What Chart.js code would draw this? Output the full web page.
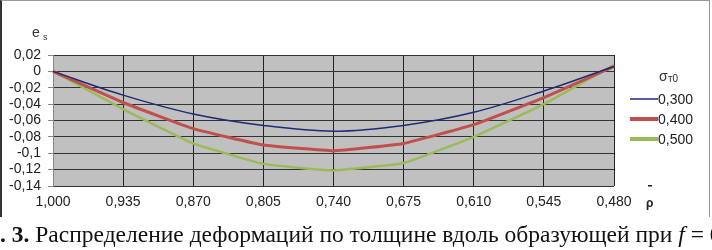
<!DOCTYPE html>
<html>
<head>
<meta charset="utf-8">
<script src="https://cdn.jsdelivr.net/npm/chart.js@4/dist/chart.umd.min.js"></script>
<style>
  body { margin: 0; background: #fff; }
  #wrap { position: relative; width: 712px; height: 250px; overflow: hidden; }
  #frame { position: absolute; left: 0; top: 0; width: 707px; height: 216px;
           border-left: 2px solid #333; border-top: 1px solid #999; border-right: 1px solid #999; }
  canvas { position: absolute; left: 0; top: 0; }
  #caption { position: absolute; left: 0; top: 221px; white-space: nowrap;
             font-family: "Liberation Serif", "DejaVu Serif", "Times New Roman", serif;
             font-size: 23.5px; color: #111; }
</style>
</head>
<body>
<div id="wrap">
  <div id="frame"></div>
  <canvas id="chart" width="712" height="250"></canvas>
  <div id="caption"><b>. 3.</b> Распределение деформаций по толщине вдоль образующей при <i>f</i> = 0</div>
</div>
<script>
const categories = ["1,000", "0,935", "0,870", "0,805", "0,740", "0,675", "0,610", "0,545", "0,480"]
const seriesNames = ["0,300", "0,400", "0,500"]
const s300 = [0, -0.029, -0.052, -0.066, -0.073, -0.066, -0.050, -0.024, 0.006]
const s400 = [0, -0.038, -0.070, -0.090, -0.097, -0.088, -0.065, -0.032, 0.006]
const s500 = [0, -0.046, -0.088, -0.113, -0.121, -0.112, -0.080, -0.040, 0.008]
const yTicks = [0.02, 0, -0.02, -0.04, -0.06, -0.08, -0.1, -0.12, -0.14]

const fmt = v => String(Math.round(v * 1000) / 1000).replace('.', ',')

// grey plot background, axis titles and the legend
const decor = {
  id: 'decor',
  beforeDraw(chart) {
    const { ctx, chartArea: a } = chart
    ctx.save()
    ctx.fillStyle = '#c0c0c0'
    ctx.fillRect(a.left, a.top, a.right - a.left, a.bottom - a.top)
    ctx.strokeStyle = '#888'
    ctx.lineWidth = 1
    ctx.beginPath()
    ctx.moveTo(a.left, a.top + 0.5); ctx.lineTo(a.right + 0.5, a.top + 0.5); ctx.lineTo(a.right + 0.5, a.bottom)
    ctx.stroke()
    ctx.restore()
  },
  afterDraw(chart) {
    const { ctx } = chart
    ctx.save()
    ctx.fillStyle = '#333'
    ctx.textBaseline = 'alphabetic'
    ctx.font = '14px "Liberation Sans"'
    ctx.fillText('e', 32, 37)
    ctx.font = '9px "Liberation Sans"'
    ctx.fillText('s', 43, 40)

    // x axis title: rho with a bar
    ctx.fillStyle = '#222'
    ctx.font = 'bold 12px "Liberation Sans"'
    ctx.fillText('ρ', 646, 207)
    ctx.fillRect(648, 185, 4, 1.5)

    // legend
    ctx.fillStyle = '#333'
    ctx.font = '14px "Liberation Sans"'
    ctx.fillText('σ', 659, 81)
    ctx.font = '10px "Liberation Sans"'
    ctx.fillText('т0', 668, 82)
    ctx.font = '14px "Liberation Sans"'
    chart.data.datasets.forEach((ds, i) => {
      const y = 99 + i * 20
      ctx.strokeStyle = ds.borderColor
      ctx.lineWidth = ds.legendWidth
      ctx.beginPath()
      ctx.moveTo(630, y); ctx.lineTo(658, y)
      ctx.stroke()
      ctx.fillStyle = '#222'
      ctx.textBaseline = 'middle'
      ctx.fillText(ds.label, 658, y + 1)
    })
    ctx.restore()
  }
}

new Chart(document.getElementById('chart'), {
  type: 'line',
  data: {
    labels: categories,
    datasets: [
      { label: seriesNames[0], data: s300, borderColor: '#1f2a78', borderWidth: 1.5, legendWidth: 1.5, tension: 0.35 },
      { label: seriesNames[1], data: s400, borderColor: '#c0504d', borderWidth: 3, legendWidth: 4, tension: 0.1 },
      { label: seriesNames[2], data: s500, borderColor: '#9bbb59', borderWidth: 2.5, legendWidth: 4, tension: 0.1 }
    ]
  },
  options: {
    responsive: false,
    animation: false,
    layout: { padding: { left: 0, top: 55, right: 98, bottom: 0 } },
    elements: { point: { radius: 0 } },
    plugins: { legend: { display: false }, tooltip: { enabled: false } },
    scales: {
      x: {
        offset: false,
        afterFit: s => { s.height = 64 },
        grid: { color: '#222', drawTicks: false },
        border: { display: false },
        ticks: { padding: 8, color: '#222', autoSkip: false, font: { family: 'Liberation Sans', size: 14 }, maxRotation: 0 }
      },
      y: {
        min: -0.14,
        max: 0.02,
        afterFit: s => { s.width = 53 },
        afterBuildTicks: s => { s.ticks = yTicks.map(v => ({ value: v })) },
        grid: { color: '#333', tickColor: '#888', tickLength: 5 },
        border: { color: '#888' },
        ticks: { padding: 7, color: '#222', autoSkip: false, font: { family: 'Liberation Sans', size: 14 }, callback: v => fmt(v) }
      }
    }
  },
  plugins: [decor]
})
</script>
</body>
</html>
